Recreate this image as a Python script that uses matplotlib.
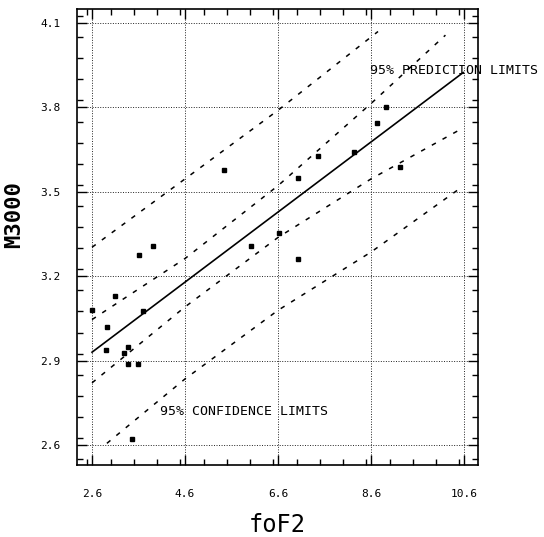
import matplotlib
matplotlib.use("Agg")
import matplotlib.pyplot as plt
from matplotlib.ticker import MultipleLocator

# ---- data ----
obs_fof2 = [2.61, 2.92, 2.90, 3.10, 3.28, 3.38, 3.38, 3.58, 3.60, 3.69, 3.91, 3.47,
            5.44, 6.02, 6.63, 7.03, 7.04, 7.45, 8.23, 8.73, 8.93, 9.22]
obs_m3000 = [3.079, 3.020, 2.937, 3.129, 2.928, 2.947, 2.888, 2.888, 3.275, 3.076, 3.306, 2.620,
             3.576, 3.308, 3.354, 3.263, 3.550, 3.627, 3.643, 3.746, 3.802, 3.587]

fit_x = [2.6, 10.58]
fit_y = [2.930, 3.924]

upper_pred_x = [2.6, 4.6, 6.6, 8.75]
upper_pred_y = [3.303, 3.546, 3.790, 4.070]
lower_pred_x = [2.92, 4.6, 6.6, 8.6, 10.45]
lower_pred_y = [2.606, 2.835, 3.079, 3.286, 3.505]

upper_conf_x = [2.6, 4.6, 6.6, 8.6, 10.2]
upper_conf_y = [3.046, 3.263, 3.522, 3.814, 4.057]
lower_conf_x = [2.6, 4.6, 6.6, 8.6, 10.5]
lower_conf_y = [2.821, 3.091, 3.338, 3.546, 3.720]

x_ticks = [2.6, 4.6, 6.6, 8.6, 10.6]
x_ticklabels = ["2.6", "4.6", "6.6", "8.6", "10.6"]
y_ticks = [2.6, 2.9, 3.2, 3.5, 3.8, 4.1]
y_ticklabels = ["2.6", "2.9", "3.2", "3.5", "3.8", "4.1"]

mono = "DejaVu Sans Mono"

fig = plt.figure(figsize=(5.44, 5.37), dpi=100)
ax = fig.add_axes([77 / 544, 1 - 465 / 537, (478 - 77) / 544, (465 - 9) / 537])

ax.set_xlim(2.277, 10.90)
ax.set_ylim(2.529, 4.150)

ax.grid(True, which="major", linestyle=(0, (1, 1.6)), color="#222222", linewidth=0.7)
ax.set_axisbelow(True)

dash = (0, (3, 5))
ax.plot(upper_pred_x, upper_pred_y, color="black", linestyle=dash, linewidth=1.1)
ax.plot(lower_pred_x, lower_pred_y, color="black", linestyle=dash, linewidth=1.1)
ax.plot(upper_conf_x, upper_conf_y, color="black", linestyle=dash, linewidth=1.1)
ax.plot(lower_conf_x, lower_conf_y, color="black", linestyle=dash, linewidth=1.1)
ax.plot(fit_x, fit_y, color="black", linewidth=1.2)
ax.plot(obs_fof2, obs_m3000, linestyle="none", marker="s", markersize=2.2,
        color="black")

ax.text(8.58, 3.932, "95% PREDICTION LIMITS", family=mono, fontsize=9.5,
        va="center", ha="left", clip_on=False)
ax.text(4.07, 2.72, "95% CONFIDENCE LIMITS", family=mono, fontsize=9.5,
        va="center", ha="left")

ax.set_xticks(x_ticks)
ax.set_xticklabels(x_ticklabels, family=mono, fontsize=8)
ax.set_yticks(y_ticks)
ax.set_yticklabels(y_ticklabels, family=mono, fontsize=8)
ax.xaxis.set_minor_locator(MultipleLocator(0.5))
ax.yaxis.set_minor_locator(MultipleLocator(0.075))
ax.tick_params(which="both", direction="in", top=True, right=True, color="black")
ax.tick_params(which="major", length=7, width=1.0)
ax.tick_params(which="minor", length=4, width=1.0)
ax.tick_params(axis="x", which="major", pad=17)
ax.tick_params(axis="y", which="major", pad=12)

for sp in ax.spines.values():
    sp.set_linewidth(1.2)
    sp.set_color("black")

ax.set_xlabel("foF2", family=mono, fontsize=17, labelpad=10)
fig.text(14 / 544, 1 - 215 / 537, "M3000", family=mono, fontweight="bold",
         fontsize=16, rotation=90, ha="center", va="center")

fig.savefig("out.png", dpi=100, facecolor="white")
